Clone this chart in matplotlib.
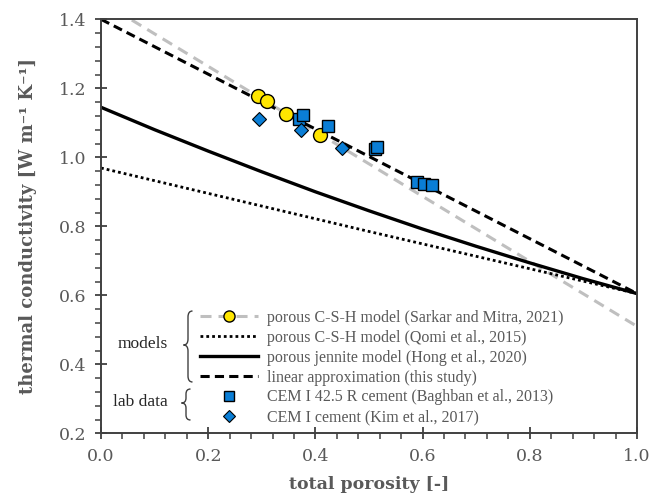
import matplotlib
matplotlib.use('Agg')
import matplotlib.pyplot as plt
from matplotlib.path import Path
from matplotlib.patches import PathPatch
from matplotlib.lines import Line2D
from matplotlib.ticker import MultipleLocator, FormatStrFormatter

# ---------------- data ----------------
sarkar_line_x = [0.0, 1.0]
sarkar_line_y = [1.452, 0.510]
sarkar_pts_x = [0.292, 0.309, 0.345, 0.409]
sarkar_pts_y = [1.177, 1.164, 1.125, 1.064]

qomi_x = [0.0, 0.5, 1.0]
qomi_y = [0.969, 0.785, 0.605]

hong_x = [0.0, 0.1, 0.2, 0.3, 0.4, 0.5, 0.6, 0.7, 0.8, 0.9, 1.0]
hong_y = [1.145, 1.080, 1.018, 0.958, 0.900, 0.845, 0.792, 0.742, 0.694, 0.648, 0.605]

linear_x = [0.0, 1.0]
linear_y = [1.400, 0.605]

baghban_x = [0.369, 0.377, 0.423, 0.511, 0.514, 0.590, 0.603, 0.617]
baghban_y = [1.111, 1.124, 1.091, 1.023, 1.030, 0.929, 0.924, 0.921]

kim_x = [0.295, 0.373, 0.449]
kim_y = [1.111, 1.079, 1.027]

labels = [
    "porous C-S-H model (Sarkar and Mitra, 2021)",
    "porous C-S-H model (Qomi et al., 2015)",
    "porous jennite model (Hong et al., 2020)",
    "linear approximation (this study)",
    "CEM I 42.5 R cement (Baghban et al., 2013)",
    "CEM I cement (Kim et al., 2017)",
]
group_labels = ["models", "lab data"]

# ---------------- style ----------------
FONT = 'DejaVu Serif'
LFONT = 'Liberation Serif'
TXT = '#595959'
GREY = '#bfbfbf'
YELLOW = '#ffe600'
BLUE = '#0a7ed6'
GREY_LS = (0, (3.6, 2.3))
DOT_LS = (0, (1, 1.1))
DASH_LS = (0, (3.0, 1.7))

W, H = 651, 496
fig = plt.figure(figsize=(W / 100, H / 100), dpi=100)
ax = fig.add_axes([101 / W, 1 - 433.3 / H, (637 - 101) / W, (433.3 - 19.3) / H])

ax.plot(sarkar_line_x, sarkar_line_y, color=GREY, lw=2.2, ls=GREY_LS, zorder=2)
ax.plot(qomi_x, qomi_y, color='black', lw=2.0, ls=DOT_LS, zorder=2)
ax.plot(hong_x, hong_y, color='black', lw=2.4, zorder=2)
ax.plot(linear_x, linear_y, color='black', lw=2.2, ls=DASH_LS, zorder=2)
ax.plot(sarkar_pts_x, sarkar_pts_y, ls='none', marker='o', ms=10, mfc=YELLOW,
        mec='black', mew=1.0, zorder=3)
for x, y in zip(baghban_x, baghban_y):
    ax.plot([x], [y], ls='none', marker='s', ms=8.7, mfc=BLUE, mec='black', mew=1.0, zorder=3)
ax.plot(kim_x, kim_y, ls='none', marker='D', ms=7.3, mfc=BLUE, mec='black', mew=0.8, zorder=3)

ax.set_xlim(0, 1.0)
ax.set_ylim(0.2, 1.4)
ax.xaxis.set_major_locator(MultipleLocator(0.2))
ax.xaxis.set_minor_locator(MultipleLocator(0.04))
ax.yaxis.set_major_locator(MultipleLocator(0.2))
ax.yaxis.set_minor_locator(MultipleLocator(0.04))
ax.xaxis.set_major_formatter(FormatStrFormatter('%.1f'))
ax.yaxis.set_major_formatter(FormatStrFormatter('%.1f'))
ax.tick_params(which='major', direction='inout', length=9, width=1.3, color='#404040',
               labelsize=12.5, labelcolor=TXT, pad=6)
ax.tick_params(which='minor', direction='out', length=4, width=1.1, color='#404040')
for lab in ax.get_xticklabels() + ax.get_yticklabels():
    lab.set_family(FONT)
for sp in ax.spines.values():
    sp.set_color('#404040')
    sp.set_linewidth(1.4)

ax.set_xlabel("total porosity [-]", family=FONT, fontsize=12.5, fontweight='bold', color=TXT, labelpad=8)
ax.set_ylabel("thermal conductivity [W m\u207b\u00b9 K\u207b\u00b9]", family=FONT, fontsize=13,
              fontweight='bold', color=TXT, labelpad=16)

# ---------------- legend ----------------
handles = [
    Line2D([], [], color=GREY, lw=2.2, ls=GREY_LS, marker='o', ms=8, mfc=YELLOW, mec='black', mew=1.0),
    Line2D([], [], color='black', lw=2.0, ls=DOT_LS),
    Line2D([], [], color='black', lw=2.4),
    Line2D([], [], color='black', lw=2.2, ls=DASH_LS),
    Line2D([], [], ls='none', marker='s', ms=7.5, mfc=BLUE, mec='black', mew=1.0),
    Line2D([], [], ls='none', marker='D', ms=6, mfc=BLUE, mec='black', mew=0.8),
]
leg = ax.legend(handles, labels, loc='upper left', bbox_to_anchor=(200 / W, 1 - 310 / H),
                bbox_transform=fig.transFigure, frameon=False, handlelength=3.6,
                handletextpad=0.6, labelspacing=0.24, borderpad=0, borderaxespad=0,
                prop={'family': LFONT, 'size': 11.5})
for t in leg.get_texts():
    t.set_color(TXT)


def brace(x_stem, y_top, y_bot, y_tip, w, r):
    def f(x, y):
        return (x / W, 1 - y / H)
    verts = [f(x_stem + w, y_top), f(x_stem, y_top), f(x_stem, y_top + r),
             f(x_stem, y_tip - r),
             f(x_stem, y_tip), f(x_stem - w, y_tip),
             f(x_stem, y_tip), f(x_stem, y_tip + r),
             f(x_stem, y_bot - r),
             f(x_stem, y_bot), f(x_stem + w, y_bot)]
    codes = [Path.MOVETO, Path.CURVE3, Path.CURVE3, Path.LINETO,
             Path.CURVE3, Path.CURVE3, Path.CURVE3, Path.CURVE3,
             Path.LINETO, Path.CURVE3, Path.CURVE3]
    p = PathPatch(Path(verts, codes), transform=fig.transFigure, fill=False,
                  edgecolor='#404040', lw=1.0)
    fig.patches.append(p)


brace(188, 311, 382, 345, 4.5, 6)
brace(186, 389, 420, 403, 4.5, 5)
fig.text(143 / W, 1 - 344 / H, group_labels[0], family=LFONT, fontsize=12.5, color='#262626',
         ha='center', va='center')
fig.text(140 / W, 1 - 402 / H, group_labels[1], family=LFONT, fontsize=12.5, color='#262626',
         ha='center', va='center')

fig.savefig('out.png', dpi=100)
